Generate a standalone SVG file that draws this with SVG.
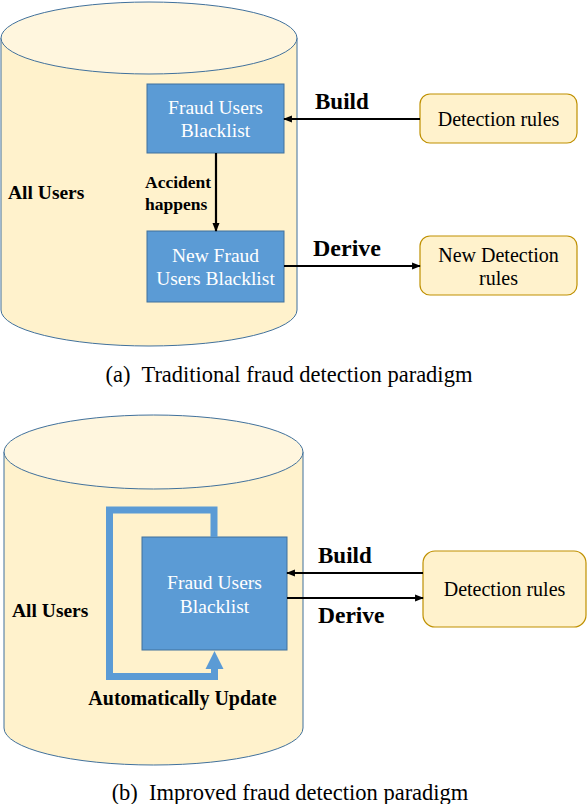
<svg xmlns="http://www.w3.org/2000/svg" width="588" height="804" viewBox="0 0 588 804">
<defs>
<style>
.cylbody{fill:#FFF2CC;stroke:#41719C;stroke-width:1}
.cyltop{fill:#FFF6DE;stroke:#41719C;stroke-width:1}
.blue{fill:#5B9BD5;stroke:#41719C;stroke-width:1}
.rule{fill:#FFF2CC;stroke:#BF9000;stroke-width:1.2}
.wt{font-family:"Liberation Serif",serif;font-size:19.5px;fill:#ffffff;text-anchor:middle}
.bt{font-family:"Liberation Serif",serif;font-size:20px;fill:#000000;text-anchor:middle}
.lb{font-family:"Liberation Serif",serif;font-weight:bold;fill:#000000}
.cap{font-family:"Liberation Serif",serif;font-size:22.5px;fill:#000000;text-anchor:middle;white-space:pre}
.line{stroke:#000;stroke-width:2.2;fill:none}
</style>
<marker id="ah" viewBox="0 0 10 10" refX="9" refY="5" markerWidth="4" markerHeight="4" orient="auto" markerUnits="strokeWidth">
<path d="M0,1 L10,5 L0,9 z" fill="#000"/>
</marker>
</defs>

<g id="cylinder-a">
<path class="cylbody" d="M1,38 L1,310 A148,36 0 0 0 297,310 L297,38 Z"/>
<ellipse class="cyltop" cx="149" cy="38" rx="148" ry="36"/>
<text class="lb" x="8" y="199" font-size="19.5">All Users</text>
</g>

<g id="blacklist-a">
<rect class="blue" x="147" y="84" width="137" height="69"/>
<text class="wt" x="215.5" y="114">Fraud Users</text>
<text class="wt" x="215.5" y="137">Blacklist</text>
</g>

<g id="new-blacklist-a">
<rect class="blue" x="147" y="231" width="137" height="71"/>
<text class="wt" x="215.5" y="262">New Fraud</text>
<text class="wt" x="215.5" y="285">Users Blacklist</text>
</g>

<g id="rules-a">
<rect class="rule" x="420" y="94" width="157" height="49" rx="10"/>
<text class="bt" x="498.5" y="126">Detection rules</text>
</g>

<g id="new-rules-a">
<rect class="rule" x="420" y="236" width="157" height="59" rx="10"/>
<text class="bt" x="498.5" y="262">New Detection</text>
<text class="bt" x="498.5" y="285">rules</text>
</g>

<g id="cylinder-b">
<path class="cylbody" d="M4,452 L4,728 A149.5,37 0 0 0 303,728 L303,452 Z"/>
<ellipse class="cyltop" cx="153.5" cy="452" rx="149.5" ry="37"/>
<text class="lb" x="12" y="617" font-size="19.5">All Users</text>
</g>

<g id="blacklist-b">
<rect class="blue" x="142" y="537" width="145" height="113"/>
<text class="wt" x="214.5" y="589">Fraud Users</text>
<text class="wt" x="214.5" y="613">Blacklist</text>
</g>

<g id="rules-b">
<rect class="rule" x="423" y="551" width="163" height="76" rx="12"/>
<text class="bt" x="504.5" y="596">Detection rules</text>
</g>

<g id="connectors">
<line class="line" x1="216" y1="153" x2="216" y2="231" marker-end="url(#ah)"/>
<line class="line" x1="420" y1="119" x2="284" y2="119" marker-end="url(#ah)"/>
<line class="line" x1="284" y1="266" x2="420" y2="266" marker-end="url(#ah)"/>
<line class="line" x1="423" y1="573" x2="287" y2="573" marker-end="url(#ah)"/>
<line class="line" x1="287" y1="598" x2="423" y2="598" marker-end="url(#ah)"/>
<path d="M214,537 L214,510 L109.5,510 L109.5,676.5 L214.5,676.5 L214.5,667" fill="none" stroke="#5B9BD5" stroke-width="7"/>
<path d="M205.5,669 L214.5,651 L223.5,669 Z" fill="#5B9BD5"/>
</g>

<g id="labels">
<text class="lb" x="145" y="188" font-size="17.5">Accident</text>
<text class="lb" x="145" y="210" font-size="17.5">happens</text>
<text class="lb" x="315" y="109" font-size="23">Build</text>
<text class="lb" x="313" y="256" font-size="24">Derive</text>
<text class="lb" x="318" y="563" font-size="23">Build</text>
<text class="lb" x="318" y="623" font-size="23.5">Derive</text>
<text class="lb" x="182.5" y="705" font-size="20" text-anchor="middle">Automatically Update</text>
<text class="cap" x="289" y="382">(a)  Traditional fraud detection paradigm</text>
<text class="cap" x="290" y="800">(b)  Improved fraud detection paradigm</text>
</g>
</svg>
